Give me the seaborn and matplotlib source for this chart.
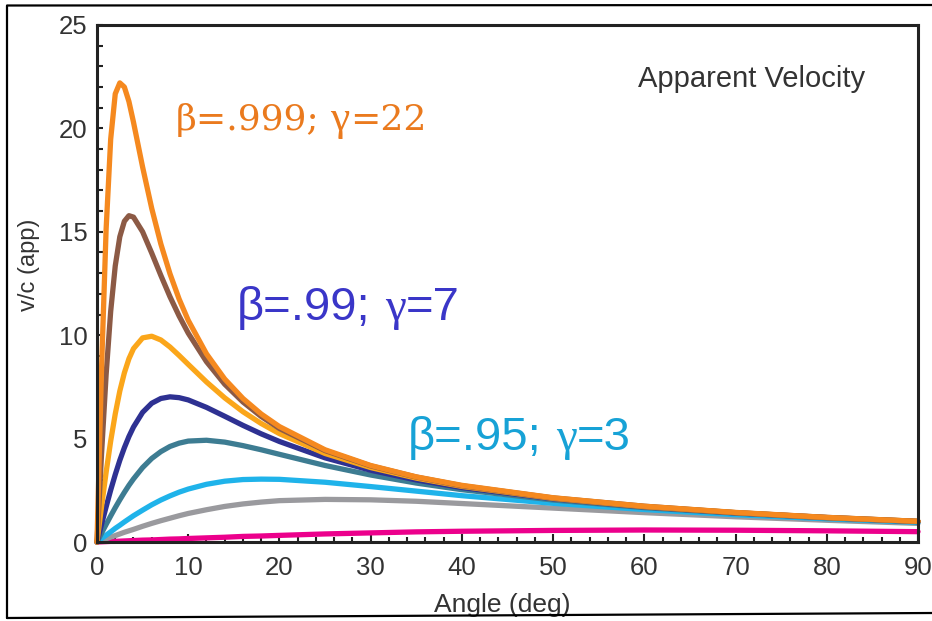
import matplotlib
matplotlib.use("Agg")
import matplotlib.pyplot as plt
from matplotlib.lines import Line2D
from matplotlib.ticker import MultipleLocator
import pandas as pd
import seaborn as sns

# --- Datos (ángulo en grados, v/c aparente) ---
angles = [0, 0.5, 1, 1.5, 2, 2.5, 3, 3.5, 4, 5, 6, 7, 8, 9, 10, 12, 14, 16, 18, 20,
          25, 30, 35, 40, 50, 60, 70, 80, 90]

v_999 = [0, 8.40, 15.13, 19.48, 21.67, 22.20, 22.00, 21.30, 20.30, 18.13, 16.13, 14.41, 12.97,
         11.75, 10.72, 9.10, 7.88, 6.94, 6.19, 5.58, 4.46, 3.70, 3.15, 2.74, 2.14, 1.73, 1.43, 1.19, 1.00]
v_998 = [0, 4.27, 8.09, 11.15, 13.35, 14.76, 15.51, 15.78, 15.71, 15.00, 13.97, 12.89, 11.86,
         10.93, 10.10, 8.72, 7.63, 6.77, 6.07, 5.49, 4.42, 3.68, 3.14, 2.72, 2.13, 1.73, 1.42, 1.19, 1.00]
v_995 = [0, 1.72, 3.37, 4.88, 6.19, 7.30, 8.18, 8.86, 9.35, 9.87, 9.95, 9.77, 9.43,
         9.02, 8.59, 7.74, 6.97, 6.30, 5.73, 5.24, 4.28, 3.60, 3.09, 2.69, 2.11, 1.71, 1.42, 1.18, 1.00]
v_99 = [0, 0.86, 1.70, 2.51, 3.26, 3.95, 4.56, 5.10, 5.56, 6.27, 6.71, 6.94, 7.02,
        6.98, 6.87, 6.51, 6.08, 5.64, 5.23, 4.86, 4.07, 3.47, 3.00, 2.63, 2.09, 1.70, 1.41, 1.18, 0.99]
v_98 = [0, 0.43, 0.85, 1.26, 1.66, 2.04, 2.40, 2.74, 3.05, 3.60, 4.04, 4.37, 4.62,
        4.78, 4.88, 4.92, 4.83, 4.66, 4.46, 4.24, 3.70, 3.24, 2.85, 2.53, 2.03, 1.66, 1.39, 1.16, 0.98]
v_95 = [0, 0.17, 0.33, 0.49, 0.66, 0.81, 0.97, 1.12, 1.27, 1.54, 1.80, 2.03, 2.23,
        2.41, 2.56, 2.79, 2.94, 3.02, 3.04, 3.03, 2.89, 2.68, 2.46, 2.24, 1.87, 1.57, 1.32, 1.12, 0.95]
v_90 = [0, 0.08, 0.16, 0.24, 0.31, 0.39, 0.47, 0.54, 0.61, 0.76, 0.90, 1.03, 1.15,
        1.27, 1.38, 1.56, 1.72, 1.84, 1.93, 2.00, 2.06, 2.04, 1.97, 1.86, 1.64, 1.42, 1.22, 1.05, 0.90]
v_50 = [0, 0.01, 0.02, 0.03, 0.03, 0.04, 0.05, 0.06, 0.07, 0.09, 0.10, 0.12, 0.14,
        0.15, 0.17, 0.20, 0.23, 0.27, 0.29, 0.32, 0.39, 0.44, 0.49, 0.52, 0.56, 0.58, 0.57, 0.54, 0.50]

betas = ["0.5", "0.9", "0.95", "0.98", "0.99", "0.995", "0.998", "0.999"]
series = [v_50, v_90, v_95, v_98, v_99, v_995, v_998, v_999]
colores = ["#EC008C", "#9A9A9E", "#1FB3EA", "#3D7C92", "#2E3192", "#FBA61A", "#8C5A45", "#F5891F"]

x_ticks = [0, 10, 20, 30, 40, 50, 60, 70, 80, 90]
y_ticks = [0, 5, 10, 15, 20, 25]

# --- DataFrame en formato largo ---
df = pd.concat([pd.DataFrame({"angle": angles, "v": vals, "beta": b})
                for b, vals in zip(betas, series)], ignore_index=True)

sns.set_style("white")
plt.rcParams["font.family"] = ["Liberation Sans", "DejaVu Sans"]

fig = plt.figure(figsize=(9.32, 6.21), dpi=100)
ax = fig.add_axes([97 / 932, 1 - 542 / 621, (918 - 97) / 932, (542 - 25) / 621])

sns.lineplot(data=df, x="angle", y="v", hue="beta", hue_order=betas, palette=colores,
             linewidth=3.8, legend=False, clip_on=False, ax=ax)

ax.set_xlim(0, 90)
ax.set_ylim(0, 25)
ax.set_xticks(x_ticks)
ax.set_yticks(y_ticks)
ax.xaxis.set_minor_locator(MultipleLocator(2))
ax.yaxis.set_minor_locator(MultipleLocator(1))

for s in ax.spines.values():
    s.set_visible(True)
    s.set_linewidth(2.2)
    s.set_color("#222222")

txt_color = "#333333"
ax.tick_params(axis="x", which="major", direction="in", length=6, width=1.5, color="#222222",
               labelsize=18.5, labelcolor=txt_color, pad=10, bottom=True)
ax.tick_params(axis="x", which="minor", direction="in", length=3.5, width=1.5, color="#222222", bottom=True)
ax.tick_params(axis="y", which="major", direction="in", length=4, width=1.5, color="#222222",
               labelsize=18.5, labelcolor=txt_color, pad=7, left=True)
ax.tick_params(axis="y", which="minor", direction="in", length=4, width=1.5, color="#222222", left=True)

ax.set_xlabel("Angle (deg)", fontsize=19, color=txt_color)
ax.set_ylabel("v/c (app)", fontsize=17, color=txt_color)
ax.xaxis.set_label_coords(0.493, -0.099)
ax.yaxis.set_label_coords(-0.07, 0.536)

ax.text(71.8, 22.0, "Apparent Velocity", fontsize=21, color=txt_color, ha="center", va="baseline")

renderer = fig.canvas.get_renderer()


def etiqueta_mixta(x, y, partes, color, size):
    # partes: lista de (texto, familia, espacio_antes_en_em, escala_tamaño)
    x_pix = ax.transData.transform((x, y))[0]
    for texto, fam, gap, esc in partes:
        x_pix += gap * size * 100 / 72
        xd = ax.transData.inverted().transform((x_pix, 0))[0]
        t = ax.text(xd, y, texto, fontsize=size * esc, color=color, family=fam,
                    ha="left", va="baseline")
        x_pix = t.get_window_extent(renderer).x1


sans = ["Liberation Sans", "DejaVu Sans"]
serif = ["Liberation Serif", "DejaVu Serif"]
serif_ancha = ["DejaVu Serif"]

etiqueta_mixta(8.66, 19.92, [("β=.999;", serif_ancha, 0, 1), ("γ", serif, 0.3, 1.2),
                             ("=22", serif_ancha, 0.02, 1)], "#EA7A1E", 26)
etiqueta_mixta(15.35, 10.73, [("β=.99;", sans, 0, 1), ("γ", serif, 0.3, 1), ("=7", sans, 0, 1)],
               "#3A36C8", 34)
etiqueta_mixta(34.09, 4.45, [("β=.95;", sans, 0, 1), ("γ", serif, 0.3, 1), ("=3", sans, 0, 1)],
               "#17A2D6", 34)

# --- Marco exterior de la imagen ---
fig.add_artist(Line2D([7 / 932, 1.0], [1 - 5.5 / 621, 1 - 5 / 621], color="black", lw=1.6))
fig.add_artist(Line2D([7 / 932, 7 / 932], [1 - 5.5 / 621, 1 - 618 / 621], color="black", lw=1.6))
fig.add_artist(Line2D([7 / 932, 1.0], [1 - 618 / 621, 1 - 613 / 621], color="black", lw=1.6))

fig.savefig("out.png", dpi=100)
